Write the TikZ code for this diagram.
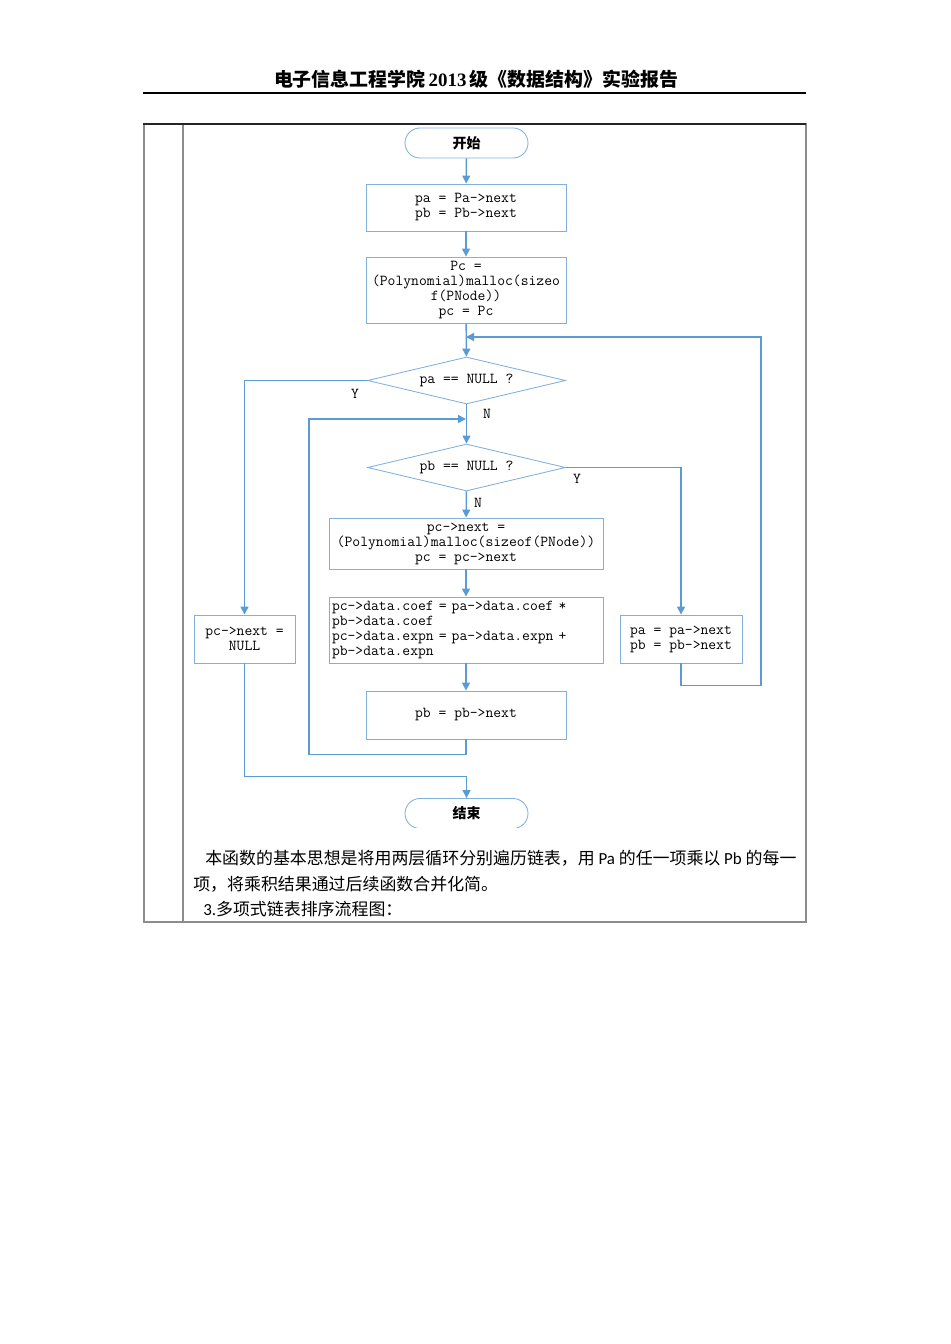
\documentclass[tikz,border=0pt]{standalone}
\usepackage{fontspec}
\setmainfont{Liberation Serif}
\newfontfamily\cjk{Noto Sans CJK SC}
\newfontfamily\latinsans{Carlito}
\usetikzlibrary{arrows.meta,shapes.geometric}
\definecolor{LineClr}{RGB}{91,155,213}
\definecolor{BoxClr}{RGB}{130,176,220}
\definecolor{FrameClr}{RGB}{140,140,140}
\newcommand\codefont{\ttfamily\fontsize{11.4}{11.25}\selectfont}
\newcommand\bodyfont{\cjk\fontsize{12.7}{15}\selectfont}

\tikzset{
  flow/.style={draw=BoxClr,line width=0.65pt,font=\codefont,align=center,inner sep=0pt},
  procbox/.style={flow,rectangle,minimum width=150pt,minimum height=35.25pt},
  widebox/.style={flow,rectangle,minimum width=205.5pt,minimum height=38.25pt},
  sidebox/.style={flow,rectangle,minimum height=36pt},
  termbox/.style={flow,rectangle,rounded corners=11.25pt,minimum width=92.25pt,
    minimum height=22.5pt,font=\cjk\bfseries\fontsize{10.5}{12}\selectfont},
  testbox/.style={flow,diamond,aspect=4.2,minimum width=148.5pt,minimum height=35.25pt},
  conn/.style={draw=LineClr,line width=1.1pt,-{Triangle[length=6pt,width=6pt]}},
  wire/.style={draw=LineClr,line width=1.1pt},
  flag/.style={font=\codefont,inner sep=0pt},
  bodyline/.style={anchor=base west,inner sep=0pt,font=\bodyfont}
}

\begin{document}
\begin{tikzpicture}[x=0.75pt,y=-0.75pt]
\useasboundingbox (0,0) rectangle (950,1344);

% page header
\node[inner sep=0pt,anchor=base] (title) at (476,87)
  {\fontsize{14.2}{16}\selectfont\bfseries{\cjk 电子信息工程学院}\,2013\,{\cjk 级《数据结构》实验报告}};
\draw[line width=1.1pt] (143,93) -- (806,93);

% table cell
\draw[FrameClr,line width=1.5pt] (143.5,124) rectangle (806,922);
\draw[FrameClr,line width=1.5pt] (183,124) -- (183,922);
\draw[black!85,line width=1.2pt] (143,124) -- (806,124);

% flow chart
\node[termbox] (start) at (466.5,143) {开始};
\node[procbox] (init) at (466,207.5) {pa = Pa->next\\pb = Pb->next};
\node[procbox,minimum height=49.5pt] (alloc) at (466,290)
  {Pc =\\(Polynomial)malloc(sizeo\\f(PNode))\\pc = Pc};
\node[testbox] (pacheck) at (466.5,380.5) {pa == NULL ?};
\node[testbox] (pbcheck) at (466.5,467.5) {pb == NULL ?};
\node[widebox] (newnode) at (466,543.5)
  {pc->next =\\(Polynomial)malloc(sizeof(PNode))\\pc = pc->next};
\node[widebox,minimum height=49.5pt,text width=201pt,align=left,inner xsep=2.25pt] (mult) at (466,630)
  {pc->data.coef = pa->data.coef *\\pb->data.coef\\pc->data.expn = pa->data.expn +\\pb->data.expn};
\node[procbox,minimum height=36pt] (pbnext) at (466,715) {pb = pb->next};
\node[sidebox,minimum width=75.75pt] (tailnull) at (244.5,639) {pc->next =\\NULL};
\node[sidebox,minimum width=91.5pt] (advance) at (681,639) {pa = pa->next\\pb = pb->next};
\begin{scope}
  \clip (380,790) rectangle (560,827.5);
  \node[termbox] (stop) at (466.5,813.5) {结束};
\end{scope}

\coordinate (outerin) at (466,337);
\coordinate (innerin) at (466,419);

\draw[conn] (start) -- (init);
\draw[conn] (init) -- (alloc);
\draw[conn] (alloc) -- (pacheck);
\draw[conn] (pacheck.west) -| (tailnull.north);
\draw[conn] (pacheck) -- (pbcheck);
\draw[conn] (pbcheck.east) -| (advance.north);
\draw[conn] (pbcheck) -- (newnode);
\draw[conn] (newnode) -- (mult);
\draw[conn] (mult) -- (pbnext);
\draw[conn] (pbnext.south) -- ++(0,15) -| (309,419) -- (innerin);
\draw[conn] (advance.south) -- ++(0,22) -| (761,337) -- (outerin);
\draw[conn] (tailnull.south) -- ++(0,113) -| (stop.north);

\node[flag] (ya) at (355,394) {Y};
\node[flag] (na) at (487,414) {N};
\node[flag] (yb) at (577,479) {Y};
\node[flag] (nb) at (478,503) {N};

% text below the chart
\node[bodyline] (lineone) at (205,864.5)
  {本函数的基本思想是将用两层循环分别遍历链表，用 {\latinsans Pa} 的任一项乘以 {\latinsans Pb} 的每一};
\node[bodyline] (linetwo) at (193,890.5) {项，将乘积结果通过后续函数合并化简。};
\node[bodyline] (linethree) at (203,915.5) {{\latinsans 3.}多项式链表排序流程图：};

\end{tikzpicture}
\end{document}
